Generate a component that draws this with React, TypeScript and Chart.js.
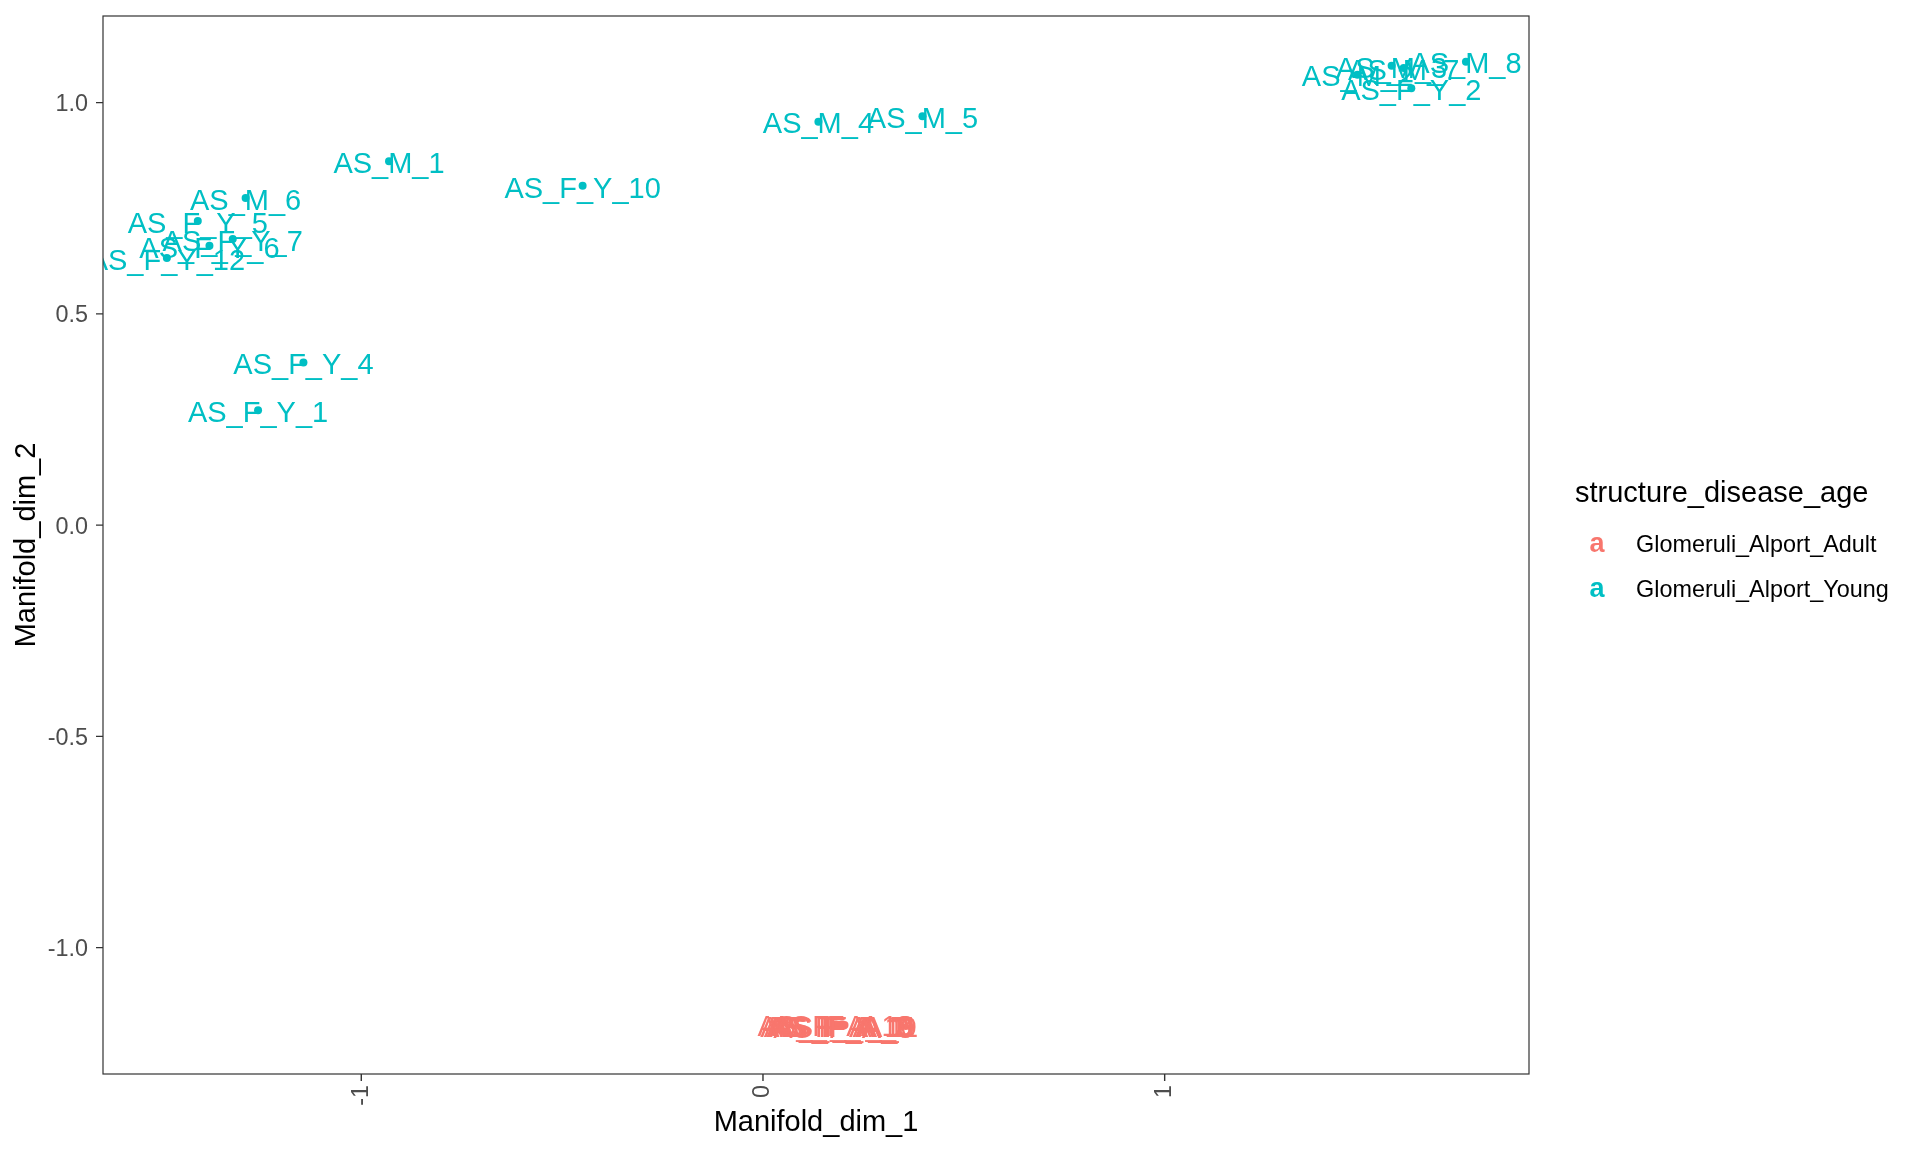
import React, { useEffect, useRef } from "react";
import { Chart, registerables } from "chart.js";

Chart.register(...registerables);

// ---- Data ----
const adultLabels = [
  "AS_F_A_1", "AS_F_A_2", "AS_F_A_3", "AS_F_A_7", "AS_F_A_8",
  "AS_F_A_10", "AS_F_A_11", "AS_F_A_13", "AS_F_A_9",
];
const adultX = [0.183, 0.19, 0.197, 0.186, 0.2, 0.188, 0.194, 0.181, 0.203];
const adultY = [-1.183, -1.184, -1.182, -1.183, -1.185, -1.183, -1.184, -1.182, -1.183];

const youngLabels = [
  "AS_M_1", "AS_F_Y_10", "AS_M_4", "AS_M_5", "AS_M_6", "AS_F_Y_5", "AS_F_Y_7", "AS_F_Y_6",
  "AS_F_Y_12", "AS_F_Y_4", "AS_F_Y_1", "AS_M_2", "AS_M_3", "AS_M_7", "AS_F_Y_2", "AS_M_8",
];
const youngX = [
  -0.931, -0.449, 0.138, 0.397, -1.288, -1.407, -1.32, -1.378,
  -1.484, -1.144, -1.257, 1.48, 1.565, 1.595, 1.614, 1.75,
];
const youngY = [
  0.861, 0.803, 0.955, 0.968, 0.774, 0.72, 0.677, 0.661,
  0.632, 0.385, 0.272, 1.066, 1.087, 1.082, 1.034, 1.097,
];

const xTicks = [-1, 0, 1];
const xTickLabels = ["-1", "0", "1"];
const yTicks = [-1, -0.5, 0, 0.5, 1];
const yTickLabels = ["-1.0", "-0.5", "0.0", "0.5", "1.0"];

const xTitle = "Manifold_dim_1";
const yTitle = "Manifold_dim_2";
const legendTitle = "structure_disease_age";
const seriesNames = ["Glomeruli_Alport_Adult", "Glomeruli_Alport_Young"];
const seriesColors = ["#F8766D", "#00BFC4"];

const X_MIN = -1.643;
const X_MAX = 1.907;
const Y_MIN = -1.299;
const Y_MAX = 1.205;

const FONT = "'Liberation Sans', Arial, Helvetica, sans-serif";

export default function App() {
  const ref = useRef<HTMLCanvasElement | null>(null);

  useEffect(() => {
    const canvas = ref.current;
    if (!canvas) return;

    const allLabels = [adultLabels, youngLabels];

    const overlay = {
      id: "ggOverlay",
      afterDatasetsDraw(chart: any) {
        const { ctx, chartArea, scales } = chart;
        const xs = scales.x;
        const ys = scales.y;
        ctx.save();
        ctx.beginPath();
        ctx.rect(chartArea.left, chartArea.top, chartArea.right - chartArea.left, chartArea.bottom - chartArea.top);
        ctx.clip();
        ctx.font = `29px ${FONT}`;
        ctx.textAlign = "center";
        ctx.textBaseline = "alphabetic";
        chart.data.datasets.forEach((ds: any, di: number) => {
          ctx.fillStyle = seriesColors[di];
          ds.data.forEach((p: any, i: number) => {
            const px = xs.getPixelForValue(p.x);
            const py = ys.getPixelForValue(p.y);
            ctx.fillText(allLabels[di][i], px, py + 11.7);
          });
        });
        ctx.restore();
      },
      afterDraw(chart: any) {
        const { ctx, chartArea, scales } = chart;
        const xs = scales.x;
        const ys = scales.y;
        const { left, right, top, bottom } = chartArea;
        ctx.save();
        ctx.strokeStyle = "#333333";
        ctx.lineWidth = 1.2;
        ctx.strokeRect(left, top, right - left, bottom - top);

        ctx.lineWidth = 1.4;
        ctx.beginPath();
        xTicks.forEach((v) => {
          const px = xs.getPixelForValue(v);
          ctx.moveTo(px, bottom);
          ctx.lineTo(px, bottom + 7);
        });
        yTicks.forEach((v) => {
          const py = ys.getPixelForValue(v);
          ctx.moveTo(left, py);
          ctx.lineTo(left - 7, py);
        });
        ctx.stroke();

        ctx.fillStyle = "#4D4D4D";
        ctx.font = `23.4px ${FONT}`;
        ctx.textAlign = "right";
        ctx.textBaseline = "alphabetic";
        yTicks.forEach((v, i) => {
          const py = ys.getPixelForValue(v);
          ctx.fillText(yTickLabels[i], left - 15, py + 8.4);
        });
        xTicks.forEach((v, i) => {
          const px = xs.getPixelForValue(v);
          ctx.save();
          ctx.translate(px, bottom + 11);
          ctx.rotate(-Math.PI / 2);
          ctx.textAlign = "right";
          ctx.textBaseline = "middle";
          ctx.fillText(xTickLabels[i], 0, 0);
          ctx.restore();
        });

        ctx.fillStyle = "#000000";
        ctx.font = `29px ${FONT}`;
        ctx.textAlign = "center";
        ctx.textBaseline = "alphabetic";
        ctx.fillText(xTitle, (left + right) / 2, 1131);
        ctx.save();
        ctx.translate(35, (top + bottom) / 2);
        ctx.rotate(-Math.PI / 2);
        ctx.fillText(yTitle, 0, 0);
        ctx.restore();

        ctx.textAlign = "left";
        ctx.fillText(legendTitle, 1575, 501.7);
        const rowY = [551.7, 597.3];
        seriesNames.forEach((name, i) => {
          ctx.fillStyle = seriesColors[i];
          ctx.font = `bold 27px ${FONT}`;
          ctx.textAlign = "center";
          ctx.fillText("a", 1597, rowY[i]);
          ctx.fillStyle = "#000000";
          ctx.font = `23.4px ${FONT}`;
          ctx.textAlign = "left";
          ctx.fillText(name, 1636, rowY[i]);
        });
        ctx.restore();
      },
    };

    const chart = new Chart(canvas, {
      type: "scatter",
      data: {
        datasets: [
          {
            label: seriesNames[0],
            data: adultX.map((x, i) => ({ x, y: adultY[i] })),
            backgroundColor: seriesColors[0],
            borderColor: seriesColors[0],
            pointRadius: 4,
            borderWidth: 0,
          },
          {
            label: seriesNames[1],
            data: youngX.map((x, i) => ({ x, y: youngY[i] })),
            backgroundColor: seriesColors[1],
            borderColor: seriesColors[1],
            pointRadius: 4,
            borderWidth: 0,
          },
        ],
      },
      options: {
        responsive: false,
        animation: false,
        devicePixelRatio: 1,
        layout: { padding: { left: 103, right: 391, top: 16, bottom: 78 } },
        plugins: { legend: { display: false }, tooltip: { enabled: false } },
        scales: {
          x: { type: "linear", min: X_MIN, max: X_MAX, display: false },
          y: { type: "linear", min: Y_MIN, max: Y_MAX, display: false },
        },
      },
      plugins: [overlay],
    });

    return () => chart.destroy();
  }, []);

  return (
    <div style={{ position: "absolute", left: 0, top: 0, width: 1920, height: 1152, background: "#fff" }}>
      <canvas ref={ref} width={1920} height={1152} style={{ width: 1920, height: 1152, display: "block" }} />
    </div>
  );
}
